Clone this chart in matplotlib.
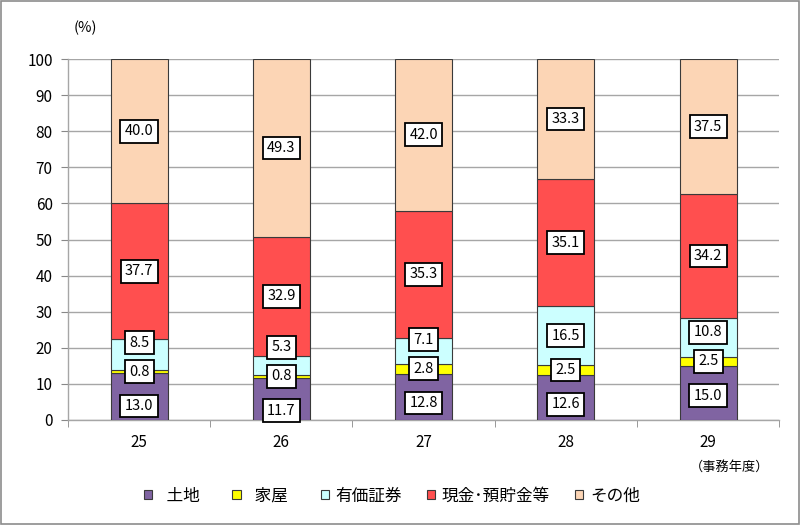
import numpy as np
import matplotlib
matplotlib.use("Agg")
import matplotlib.pyplot as plt
from matplotlib.patches import Rectangle

plt.rcParams['font.family'] = ['Noto Sans CJK JP', 'DejaVu Sans']

# データ
years = ["25", "26", "27", "28", "29"]
series_names = ["  土地  ", "  家屋  ", "有価証券", "現金･預貯金等", "その他"]
tochi = [13.0, 11.7, 12.8, 12.6, 15.0]
kaoku = [0.8, 0.8, 2.8, 2.5, 2.5]
yuka = [8.5, 5.3, 7.1, 16.5, 10.8]
genkin = [37.7, 32.9, 35.3, 35.1, 34.2]
sonota = [40.0, 49.3, 42.0, 33.3, 37.5]
colors = ["#8064A2", "#FFFF00", "#CCFFFF", "#FF4F4F", "#FCD5B5"]

values = np.array([tochi, kaoku, yuka, genkin, sonota])

fig = plt.figure(figsize=(8, 5.25), dpi=100)
ax = fig.add_axes([0.085, 0.2, 0.889, 0.6876])

x = np.arange(len(years))
bottom = np.zeros(len(years))
for name, vals, col in zip(series_names, values, colors):
    ax.bar(x, vals, 0.4, bottom=bottom, color=col, edgecolor="#3a3a3a",
           linewidth=0.8, label=name, zorder=3)
    bottom = bottom + vals

# ラベル位置 (重なりを避ける)
box = dict(boxstyle="square,pad=0.3", facecolor="white", edgecolor="black", linewidth=1.3)
for i in range(len(years)):
    cum = np.concatenate([[0], np.cumsum(values[:, i])])
    centers = (cum[:-1] + cum[1:]) / 2
    ys = centers.copy()
    ys[0] = min(centers[0], centers[1] - 9.5)
    ys[2] = max(centers[2], centers[1] + 8)
    for k in range(len(series_names)):
        ax.text(x[i], ys[k], f"{values[k, i]:.1f}", ha="center", va="center",
                fontsize=10.5, bbox=box, zorder=5)

ax.set_xlim(-0.5, len(years) - 0.5)
ax.set_ylim(0, 100)
ax.set_yticks(np.arange(0, 101, 10))
ax.set_xticks(x)
ax.set_xticklabels(years)
ax.set_xticks(np.arange(-0.5, len(years), 1), minor=True)
ax.tick_params(axis="x", which="major", length=0, pad=10, labelsize=11)
ax.tick_params(axis="x", which="minor", length=5, color="#888888", direction="out")
ax.tick_params(axis="y", length=5, color="#888888", labelsize=11, pad=6)
ax.grid(axis="y", color="#a6a6a6", linewidth=1, zorder=0)
for s in ["top", "right"]:
    ax.spines[s].set_visible(False)
for s in ["left", "bottom"]:
    ax.spines[s].set_color("#a6a6a6")
    ax.spines[s].set_linewidth(1)

fig.text(0.107, 0.947, "(%)", ha="center", va="center", fontsize=10.5)
fig.text(0.962, 0.11, "（事務年度）", ha="right", va="center", fontsize=9.5)

handles, labels = ax.get_legend_handles_labels()
fig.legend(handles, labels, loc="center", bbox_to_anchor=(0.49, 0.055), ncol=5,
           frameon=False, fontsize=12, handlelength=0.5, handleheight=0.5,
           handletextpad=0.4, columnspacing=1.5)

fig.add_artist(Rectangle((0.001, 0.001), 0.998, 0.997, transform=fig.transFigure,
                         fill=False, edgecolor="#8c8c8c", linewidth=1.2))

plt.savefig("out.png", dpi=100)
